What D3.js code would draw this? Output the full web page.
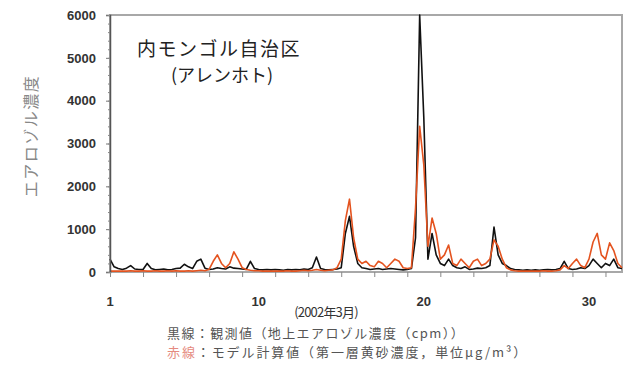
<!DOCTYPE html>
<html><head><meta charset="utf-8">
<script src="https://cdn.jsdelivr.net/npm/d3@7"></script>
<style>
body{margin:0;background:#fff;}
svg{display:block;}
</style>
</head><body>
<svg id="c" width="626" height="376"></svg>
<script>
// Time axis: 6-hourly samples starting at day 1 (2002 March)
const startDay = 1;
const stepDays = 0.25;
// Observed (black line): ground aerosol concentration (cpm)
const observed = [
  300,120,80,60,   90,150,70,60,   60,200,80,50,   60,70,50,60,
  80,90,180,120,   80,250,300,90,  60,70,100,80,   70,120,90,80,
  70,60,250,80,    60,50,60,50,    60,50,40,60,    50,60,50,70,
  60,100,350,80,   60,50,60,70,    100,900,1300,600, 200,100,80,60,
  70,80,60,70,     80,70,60,50,    60,80,800,6000, 3600,300,900,400,
  200,150,300,150, 100,80,120,60,  70,90,80,100,   150,1050,400,200,
  150,80,60,50,    40,50,40,50,    40,50,60,50,    60,80,250,80,
  60,70,100,80,    150,300,200,100, 200,150,300,100, 80
];
// Model (red line): first-layer yellow sand concentration (µg/m3)
const model = [
  20,20,20,20,     20,30,20,20,    30,20,20,30,    20,20,30,20,
  30,20,20,30,     20,30,40,30,    60,250,400,200, 100,200,470,300,
  100,60,40,30,    30,20,20,20,    20,20,20,30,    20,20,30,40,
  30,40,60,40,     30,40,50,100,   300,1200,1700,800, 300,200,250,150,
  120,250,200,100, 200,300,250,100, 80,100,1500,3400, 2500,600,1260,900,
  300,400,630,200, 150,300,200,100, 250,300,150,200, 300,750,600,300,
  100,50,30,20,    20,20,20,20,    20,30,20,20,    30,50,150,80,
  200,300,150,100, 300,700,900,400, 300,680,500,200, 100
];
const yTicks = [0,1000,2000,3000,4000,5000,6000];
const xTickLabels = [1,10,20,30];
const title1 = "内モンゴル自治区";
const title2 = "(アレンホト)";
const yLabel = "エアロゾル濃度";
const xTitle = "(2002年3月)";
const legend1 = ["黒線", "：観測値（地上エアロゾル濃度（cpm））"];
const legend2 = ["赤線", "：モデル計算値（第一層黄砂濃度，単位μg/m³）"];

const svg = d3.select("#c");
const L = 110, R = 622, T = 15, B = 272;
const x = d3.scaleLinear().domain([1, 32]).range([L, R]);
const y = d3.scaleLinear().domain([0, 6000]).range([B, T]);
const numFont = "'Liberation Sans', Arial, sans-serif";
const jpFont = "'Noto Sans CJK JP', sans-serif";

// frame
svg.append("rect").attr("x", L).attr("y", T).attr("width", R - L).attr("height", B - T)
  .attr("fill", "none").attr("stroke", "#a8a8a8").attr("stroke-width", 2);

// data lines
const line = d3.line().x((d, i) => x(startDay + i * stepDays)).y(d => y(d));
svg.append("path").datum(observed).attr("d", line)
  .attr("fill", "none").attr("stroke", "#111").attr("stroke-width", 1.6).attr("stroke-linejoin", "round");
svg.append("path").datum(model).attr("d", line)
  .attr("fill", "none").attr("stroke", "#e4531f").attr("stroke-width", 1.6).attr("stroke-linejoin", "round");

// y axis
const yAxis = d3.axisLeft(y).tickValues(yTicks).tickSize(4).tickFormat(d3.format("d")).tickPadding(10);
const gy = svg.append("g").attr("transform", `translate(${L},0)`).call(yAxis);
gy.select(".domain").attr("stroke", "#555").attr("stroke-width", 1.5);
gy.selectAll(".tick line").attr("stroke", "#777");
gy.selectAll(".tick text").attr("font-family", numFont).attr("font-weight", "bold")
  .attr("font-size", 13).attr("fill", "#333");
// minor ticks
const gyMinor = d3.axisLeft(y).tickValues(d3.range(0, 6001, 200)).tickSize(2).tickFormat("");
svg.append("g").attr("transform", `translate(${L},0)`).call(gyMinor)
  .call(g => g.select(".domain").remove())
  .selectAll(".tick line").attr("stroke", "#888");

// x axis
const xAxis = d3.axisBottom(x).tickValues(d3.range(1, 32, 2)).tickSize(5).tickFormat("");
const gx = svg.append("g").attr("transform", `translate(0,${B})`).call(xAxis);
gx.select(".domain").remove();
gx.selectAll(".tick line").attr("stroke", "#888");
svg.append("g").selectAll("text").data(xTickLabels).join("text")
  .attr("x", d => x(d)).attr("y", 306).attr("text-anchor", "middle")
  .attr("font-family", numFont).attr("font-weight", "bold").attr("font-size", 13).attr("fill", "#333")
  .text(d => d);

// titles
svg.append("text").attr("x", 137).attr("y", 56).attr("font-family", jpFont)
  .attr("font-size", 19).attr("letter-spacing", 1.5).attr("fill", "#222").text(title1);
svg.append("text").attr("x", 222).attr("y", 82).attr("text-anchor", "middle").attr("font-family", jpFont)
  .attr("font-size", 18).attr("fill", "#222").text(title2);

// y label
svg.append("text").attr("transform", "translate(37,136) rotate(-90)").attr("text-anchor", "middle")
  .attr("font-family", jpFont).attr("font-size", 16).attr("letter-spacing", 1.5)
  .attr("fill", "#888").text(yLabel);

// x title
svg.append("text").attr("x", 326).attr("y", 317).attr("text-anchor", "middle")
  .attr("font-family", jpFont).attr("font-size", 13).attr("letter-spacing", -0.8)
  .attr("fill", "#333").text(xTitle);

// legend
const lg1 = svg.append("text").attr("x", 167).attr("y", 338).attr("font-family", jpFont)
  .attr("font-size", 13).attr("letter-spacing", 1.4).attr("fill", "#555");
lg1.append("tspan").text(legend1[0]);
lg1.append("tspan").text(legend1[1]);
const lg2 = svg.append("text").attr("x", 167).attr("y", 357).attr("font-family", jpFont)
  .attr("font-size", 13).attr("letter-spacing", 1.9).attr("fill", "#555");
lg2.append("tspan").attr("fill", "#e58a80").text(legend2[0]);
lg2.append("tspan").text(legend2[1]);
</script>
</body></html>
